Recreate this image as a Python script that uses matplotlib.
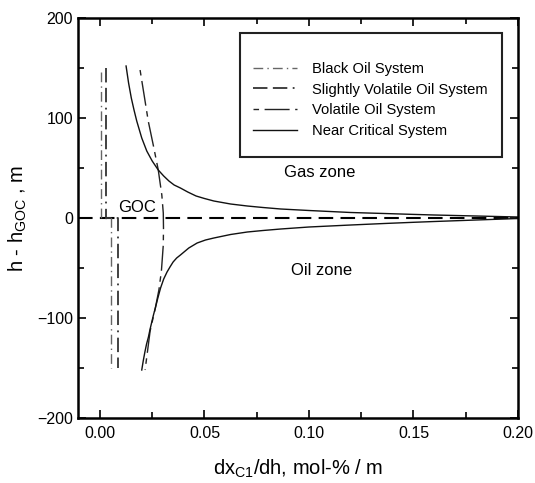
import matplotlib
matplotlib.use("Agg")
import matplotlib.pyplot as plt
from matplotlib.patches import Rectangle
from matplotlib.ticker import MultipleLocator

plt.rcParams['font.family'] = ['Liberation Sans', 'DejaVu Sans']
plt.rcParams['mathtext.fontset'] = 'custom'
plt.rcParams['mathtext.rm'] = 'Liberation Sans'

# Black oil system (step at GOC)
black_x = [0.0003, 0.0003, 0.0053, 0.0053]
black_y = [146, 0, 0, -150]
# Slightly volatile oil system
slight_x = [0.0029, 0.0029, 0.0085, 0.0085]
slight_y = [150, 0, 0, -150]
# Volatile oil system
vol_x = [0.0192, 0.0212, 0.0231, 0.0256, 0.0279, 0.0296, 0.0303, 0.0304, 0.0303, 0.0294, 0.0282, 0.0265, 0.0240, 0.0216]
vol_y = [148, 122, 97, 72, 48, 23, 5, -10, -27, -53, -72, -90, -113, -152]
# Near critical system (upper branch, gas zone)
nc_up_x = [0.0125, 0.0137, 0.0150, 0.0163, 0.0176, 0.0200, 0.0224, 0.0250, 0.0279, 0.0305, 0.0330, 0.0355,
           0.0385, 0.0420, 0.0460, 0.0500, 0.0545, 0.0625, 0.0705, 0.0780, 0.0865, 0.100, 0.110, 0.120,
           0.136, 0.150, 0.160, 0.180, 0.200]
nc_up_y = [152, 135, 120, 108, 97, 80, 67, 57, 48, 42, 37, 33, 30, 26, 22, 19.5, 17, 14, 12, 10.5, 9, 7.5,
           6.5, 5.5, 4.5, 3.6, 3, 2, 1]
# Near critical system (lower branch, oil zone)
nc_lo_x = [0.0200, 0.0207, 0.0215, 0.0223, 0.0232, 0.0240, 0.0248, 0.0256, 0.0265, 0.0277, 0.0290, 0.0305,
           0.0321, 0.0335, 0.0350, 0.0367, 0.0385, 0.0425, 0.0465, 0.0505, 0.0545, 0.0625, 0.0705, 0.0780,
           0.0865, 0.100, 0.110, 0.120, 0.136, 0.150, 0.160, 0.180, 0.200]
nc_lo_y = [-152, -143, -134, -126, -119, -111, -104, -97, -90, -80, -70, -61, -54, -49, -44, -40, -37, -30,
           -25, -22, -20, -16.5, -14, -12.5, -11, -9, -8, -7, -5.5, -4.3, -3.5, -2, -0.5]
# GOC line
goc_x = [-0.0105, 0.20]
goc_y = [0, 0]

labels = ["Black Oil System", "Slightly Volatile Oil System", "Volatile Oil System", "Near Critical System"]

fig = plt.figure(figsize=(5.35, 4.83), dpi=100)
ax = fig.add_axes([0.1458, 0.1346, 0.8224, 0.8281])

ax.plot(goc_x, goc_y, color='black', lw=1.5, dashes=(7, 3.5))
l1, = ax.plot(black_x, black_y, color='#666666', lw=1.0, dashes=(7, 3, 1, 3))
l2, = ax.plot(slight_x, slight_y, color='#333333', lw=1.3, dashes=(8, 3, 8, 3, 1, 3))
l3, = ax.plot(vol_x, vol_y, color='#222222', lw=1.0, dashes=(4, 4, 18, 4))
l4, = ax.plot(nc_up_x, nc_up_y, color='#111111', lw=1.0)
ax.plot(nc_lo_x, nc_lo_y, color='#111111', lw=1.0)

ax.set_xlim(-0.0105, 0.20)
ax.set_ylim(-200, 200)
ax.xaxis.set_major_locator(MultipleLocator(0.05))
ax.xaxis.set_minor_locator(MultipleLocator(0.025))
ax.yaxis.set_major_locator(MultipleLocator(100))
ax.yaxis.set_minor_locator(MultipleLocator(50))
ax.xaxis.set_major_formatter(matplotlib.ticker.FormatStrFormatter('%.2f'))
ax.tick_params(which='both', direction='in', top=True, right=True, labelsize=11.5, width=1.2)
ax.tick_params(which='major', length=6)
ax.tick_params(which='minor', length=4)
ax.tick_params(axis='x', pad=6)
for s in ax.spines.values():
    s.set_linewidth(1.8)

ax.set_xlabel(r"dx$_{\mathregular{C1}}$/dh, mol-% / m", fontsize=14.5, labelpad=12)
ax.set_ylabel(r"h - h$_{\mathregular{GOC}}$ , m", fontsize=14.5, labelpad=6)

ax.text(0.0178, 3, "GOC", fontsize=12, ha='center', va='bottom')
ax.text(0.105, 46, "Gas zone", fontsize=12, ha='center', va='center')
ax.text(0.106, -53, "Oil zone", fontsize=12, ha='center', va='center')

ax.add_patch(Rectangle((0.368, 0.6525), 0.5955, 0.31, transform=ax.transAxes,
                       fill=False, lw=1.5, edgecolor='#222222', zorder=5))
leg = ax.legend([l1, l2, l3, l4], labels, loc='upper left', bbox_to_anchor=(0.398, 0.89),
                frameon=False, fontsize=10.6, handlelength=3.0, labelspacing=0.45,
                handletextpad=1.0, borderaxespad=0, borderpad=0)

fig.savefig("out.png", dpi=100)
